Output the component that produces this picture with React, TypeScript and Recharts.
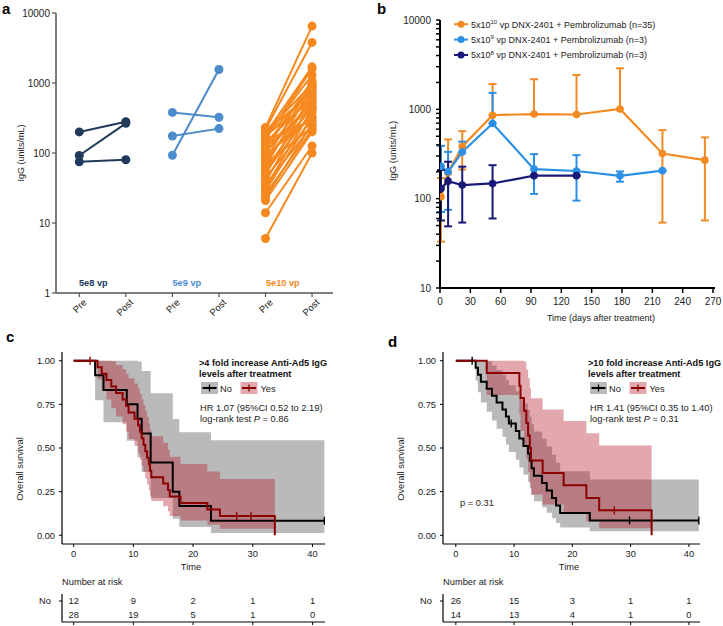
import React from 'react';
import {
  LineChart,
  Line,
  XAxis,
  YAxis,
  ComposedChart,
  Area,
  Scatter,
  ErrorBar,
} from 'recharts';

const FONT = '"Liberation Sans", Arial, Helvetica, sans-serif';

// ---------- panel a: pre / post IgG per patient, by dose
const dose5e8: [number, number][] = [[200, 280], [92, 265], [75, 80]];
const dose5e9: [number, number][] = [[380, 324], [175, 223], [93, 1560]];
const dose5e10: [number, number][] = [
  [6, 100], [14, 126], [21, 200], [23, 260], [26, 215], [29, 330], [32, 420], [35, 245],
  [39, 540], [44, 300], [49, 690], [54, 380], [59, 470], [64, 860], [70, 235], [75, 610],
  [80, 990], [86, 420], [92, 330], [98, 760], [105, 520], [112, 1080], [120, 450], [130, 900],
  [140, 640], [150, 290], [160, 1600], [168, 820], [178, 560], [188, 1700], [198, 960],
  [208, 700], [218, 3800], [232, 6500], [175, 1300],
];
const prePostLabels = ['Pre', 'Post', 'Pre', 'Post', 'Pre', 'Post'];
const groupLabels = ['5e8 vp', '5e9 vp', '5e10 vp'];
const ticksA = [1, 10, 100, 1000, 10000];

// ---------- panel b: IgG over time (mean, lower, upper)
const days5e10 = [1, 8, 22, 52, 93, 135, 178, 220, 262];
const mean5e10 = [105, 195, 385, 860, 885, 875, 1010, 320, 270];
const low5e10 = [33, null, 212, null, null, null, null, 54, 57];
const high5e10 = [170, 460, 570, 1920, 2170, 2420, 2880, 585, 485];

const days5e9 = [1, 8, 22, 52, 93, 135, 178, 220];
const mean5e9 = [230, 200, 333, 695, 214, 204, 180, 206];
const low5e9 = [71, 75, null, null, 113, 95, 155, null];
const high5e9 = [390, 334, 435, 1530, 315, 307, 202, null];

const days5e8 = [1, 8, 22, 52, 93, 135];
const mean5e8 = [130, 157, 142, 148, 181, 181];
const low5e8 = [57, 49, 54, 60, null, null];
const high5e8 = [209, 259, 228, 237, null, null];

const majorTicksB = [10, 100, 1000, 10000];
const allTicksB = [
  10, 20, 30, 40, 50, 60, 70, 80, 90,
  100, 200, 300, 400, 500, 600, 700, 800, 900,
  1000, 2000, 3000, 4000, 5000, 6000, 7000, 8000, 9000, 10000,
];
const dayTicks = [0, 30, 60, 90, 120, 150, 180, 210, 240, 270];

// ---------- panel c: >4 fold increase
const cNoT = [0, 3.6, 5.0, 8.9, 10.7, 11.4, 12.9, 16.6, 17.7, 23.0, 42];
const cNoS = [1, 0.917, 0.833, 0.75, 0.667, 0.583, 0.417, 0.25, 0.167, 0.083, 0.083];
const cNoLo = [1, 0.773, 0.647, 0.541, 0.447, 0.362, 0.213, 0.094, 0.047, 0.013, 0.013];
const cNoHi = [1, 1, 1, 1, 0.995, 0.941, 0.814, 0.666, 0.59, 0.544, 0.544];
const cNoCens = [[42, 0.083]];

const cYesT = [0, 4.0, 4.7, 5.5, 6.3, 7.1, 8.2, 8.8, 9.2, 10.2, 10.8, 11.1, 11.4, 11.7, 12.0,
  12.3, 12.6, 12.8, 13.0, 15.0, 15.8, 16.1, 17.9, 22.4, 24.5, 33.7];
const cYesS = [1, 0.963, 0.926, 0.889, 0.852, 0.815, 0.778, 0.741, 0.704, 0.667, 0.63, 0.593,
  0.556, 0.519, 0.481, 0.444, 0.407, 0.37, 0.333, 0.296, 0.259, 0.222, 0.185, 0.148, 0.111, 0];
const cYesLo = [1, 0.894, 0.832, 0.778, 0.728, 0.681, 0.636, 0.593, 0.551, 0.511, 0.472, 0.433,
  0.397, 0.361, 0.325, 0.291, 0.258, 0.226, 0.196, 0.166, 0.137, 0.11, 0.084, 0.06, 0.038, 0.038];
const cYesHi = [1, 1, 1, 1, 0.997, 0.975, 0.951, 0.926, 0.899, 0.87, 0.841, 0.81, 0.779, 0.746,
  0.712, 0.677, 0.642, 0.605, 0.568, 0.53, 0.49, 0.45, 0.409, 0.366, 0.323, 0.323];
const cYesCens = [[2.75, 1], [27.3, 0.111], [29.7, 0.111]];

// ---------- panel d: >10 fold increase
const dNoT = [0, 3.4, 3.8, 4.3, 5.3, 6.2, 7.0, 8.0, 8.6, 9.1, 10.3, 10.9, 11.6, 12.4, 12.7,
  13.0, 13.4, 14.8, 15.6, 16.5, 17.2, 17.9, 23.0, 41.7];
const dNoS = [1, 0.96, 0.92, 0.88, 0.84, 0.8, 0.76, 0.72, 0.68, 0.64, 0.597, 0.555, 0.512,
  0.469, 0.427, 0.384, 0.341, 0.299, 0.256, 0.213, 0.171, 0.128, 0.085, 0.085];
const dNoLo = [1, 0.886, 0.82, 0.761, 0.708, 0.658, 0.61, 0.564, 0.52, 0.477, 0.432, 0.389,
  0.347, 0.307, 0.269, 0.231, 0.195, 0.161, 0.129, 0.098, 0.07, 0.045, 0.023, 0.023];
const dNoHi = [1, 1, 1, 1, 0.997, 0.973, 0.947, 0.919, 0.89, 0.859, 0.825, 0.791, 0.755,
  0.717, 0.678, 0.638, 0.595, 0.553, 0.508, 0.462, 0.416, 0.367, 0.32, 0.32];
const dNoCens = [[2.8, 1], [9.5, 0.64], [29.8, 0.085], [41.7, 0.085]];

const dYesT = [0, 5.3, 10.9, 11.1, 11.7, 12.1, 12.4, 12.7, 12.9, 14.9, 18.5, 22.4, 24.6, 33.6];
const dYesS = [1, 0.929, 0.857, 0.786, 0.714, 0.643, 0.571, 0.5, 0.429, 0.357, 0.286, 0.214, 0.143, 0];
const dYesLo = [1, 0.803, 0.692, 0.598, 0.513, 0.435, 0.363, 0.296, 0.234, 0.177, 0.125, 0.079, 0.04, 0.04];
const dYesHi = [1, 1, 1, 1, 0.995, 0.95, 0.899, 0.844, 0.785, 0.721, 0.654, 0.584, 0.515, 0.515];
const dYesCens = [[27.2, 0.143]];

const riskTimes = [0, 10, 20, 30, 40];
const cRiskNo = [12, 9, 2, 1, 1];
const cRiskYes = [28, 19, 5, 1, 0];
const dRiskNo = [26, 15, 3, 1, 1];
const dRiskYes = [14, 13, 4, 1, 0];
const survTicks = [0, 0.25, 0.5, 0.75, 1];
const timeTicks = [0, 10, 20, 30, 40];

const C8 = '#213a5c';
const C9 = '#4c8bcc';
const C10 = '#f5891f';
const B10 = '#f28b24';
const B9 = '#2b8fe6';
const B8 = '#19197a';
const KM_RED = '#8b0000';
const BAND_RED = '#b5192b';

const KM_FS = 9.3;
const tickText = { fontSize: 10, fill: '#222', fontFamily: FONT };
const kmTickText = { fontSize: KM_FS, fill: '#222', fontFamily: FONT };

const PrePostTick = (props: any) => {
  const { x, y, payload } = props;
  return (
    <text
      transform={`translate(${x + 8},${y + 4}) rotate(-45)`}
      textAnchor="end"
      fontSize={9.5}
      fill="#222"
      fontFamily={FONT}
    >
      {prePostLabels[payload.value - 1]}
    </text>
  );
};

function PanelA() {
  const groups: [[number, number][], string, number][] = [
    [dose5e8, C8, 1],
    [dose5e9, C9, 3],
    [dose5e10, C10, 5],
  ];
  return (
    <LineChart width={360} height={320} margin={{ top: 13, right: 27, bottom: 0, left: 6 }}>
      <XAxis
        type="number"
        dataKey="x"
        domain={[0.5, 6.45]}
        ticks={[1, 2, 3, 4, 5, 6]}
        allowDataOverflow
        height={27}
        tickSize={4}
        tick={<PrePostTick />}
        axisLine={{ stroke: '#555', strokeWidth: 1.5 }}
        tickLine={{ stroke: '#555', strokeWidth: 1.2 }}
      />
      <YAxis
        type="number"
        dataKey="y"
        scale="log"
        domain={[1, 10000]}
        ticks={ticksA}
        allowDataOverflow
        width={50}
        tickSize={4}
        tick={tickText}
        axisLine={{ stroke: '#555', strokeWidth: 1.5 }}
        tickLine={{ stroke: '#555', strokeWidth: 1.2 }}
      />
      {groups.map(([pairs, color, x0], g) =>
        pairs.map((p, i) => (
          <Line
            key={`${g}-${i}`}
            data={[{ x: x0, y: p[0] }, { x: x0 + 1, y: p[1] }]}
            dataKey="y"
            stroke={color}
            strokeWidth={2}
            dot={{ r: 4.5, fill: color, stroke: color, strokeWidth: 0 }}
            activeDot={false}
            isAnimationActive={false}
          />
        )),
      )}
    </LineChart>
  );
}

const toSeries = (days: number[], mean: number[], low: (number | null)[], high: (number | null)[]) =>
  days.map((d, i) => ({
    d,
    v: mean[i],
    e: [low[i] == null ? 0 : mean[i] - (low[i] as number), high[i] == null ? 0 : (high[i] as number) - mean[i]],
  }));

function PanelB() {
  const series: [any[], string][] = [
    [toSeries(days5e10, mean5e10, low5e10, high5e10), B10],
    [toSeries(days5e9, mean5e9, low5e9, high5e9), B9],
    [toSeries(days5e8, mean5e8, low5e8, high5e8), B8],
  ];
  return (
    <ComposedChart width={363} height={330} margin={{ top: 20, right: 8, bottom: 12, left: 30 }}>
      <XAxis
        type="number"
        dataKey="d"
        domain={[0, 272]}
        ticks={dayTicks}
        allowDataOverflow
        height={30}
        tickSize={5}
        tickMargin={5}
        tick={tickText}
        axisLine={{ stroke: '#000', strokeWidth: 2 }}
        tickLine={{ stroke: '#000', strokeWidth: 1.5 }}
      />
      <YAxis
        type="number"
        scale="log"
        domain={[10, 10000]}
        ticks={allTicksB}
        allowDataOverflow
        interval={0}
        width={50}
        tickSize={4}
        tickMargin={5}
        tickFormatter={(v: number) => (majorTicksB.includes(v) ? String(v) : '')}
        tick={tickText}
        axisLine={{ stroke: '#000', strokeWidth: 2 }}
        tickLine={{ stroke: '#000', strokeWidth: 1.5 }}
      />
      {series.map(([data, color], i) => (
        <Line
          key={i}
          data={data}
          dataKey="v"
          stroke={color}
          strokeWidth={2.2}
          dot={{ r: 3.8, fill: color, stroke: color, strokeWidth: 0 }}
          activeDot={false}
          isAnimationActive={false}
        >
          <ErrorBar dataKey="e" width={4} stroke={color} strokeWidth={2} direction="y" />
        </Line>
      ))}
    </ComposedChart>
  );
}

const CensorMark = (color: string) => (props: any) => (
  <line x1={props.cx} x2={props.cx} y1={props.cy - 4} y2={props.cy + 4} stroke={color} strokeWidth={1.4} />
);

type KmProps = {
  width: number;
  marginLeft: number;
  marginRight: number;
  domain: [number, number];
  noT: number[];
  noS: number[];
  noLo: number[];
  noHi: number[];
  noCens: number[][];
  yesT: number[];
  yesS: number[];
  yesLo: number[];
  yesHi: number[];
  yesCens: number[][];
};

function KmChart(p: KmProps) {
  const noLine = p.noT.map((t, i) => ({ t, s: p.noS[i] }));
  const yesLine = p.yesT.map((t, i) => ({ t, s: p.yesS[i] }));
  const noBand = p.noT.map((t, i) => ({ t, band: [p.noLo[i], p.noHi[i]] }));
  const yesBand = p.yesT.map((t, i) => ({ t, band: [p.yesLo[i], p.yesHi[i]] }));
  const noCens = p.noCens.map(([t, s]) => ({ t, s }));
  const yesCens = p.yesCens.map(([t, s]) => ({ t, s }));
  return (
    <ComposedChart
      width={p.width}
      height={240}
      margin={{ top: 22, right: p.marginRight, bottom: 1, left: p.marginLeft }}
    >
      <XAxis
        type="number"
        dataKey="t"
        domain={p.domain}
        ticks={timeTicks}
        allowDataOverflow
        height={25}
        tickSize={3}
        tickMargin={3}
        tick={kmTickText}
        axisLine={{ stroke: '#000', strokeWidth: 1.2 }}
        tickLine={{ stroke: '#000', strokeWidth: 1 }}
      />
      <YAxis
        type="number"
        domain={[-0.05, 1.05]}
        ticks={survTicks}
        allowDataOverflow
        width={40}
        tickSize={3}
        tickMargin={4}
        tickFormatter={(v: number) => v.toFixed(2)}
        tick={kmTickText}
        axisLine={{ stroke: '#000', strokeWidth: 1.2 }}
        tickLine={{ stroke: '#000', strokeWidth: 1 }}
      />
      <Area
        data={noBand}
        dataKey="band"
        type="stepAfter"
        stroke="none"
        fill="#000"
        fillOpacity={0.27}
        activeDot={false}
        isAnimationActive={false}
      />
      <Area
        data={yesBand}
        dataKey="band"
        type="stepAfter"
        stroke="none"
        fill={BAND_RED}
        fillOpacity={0.38}
        activeDot={false}
        isAnimationActive={false}
      />
      <Line data={noLine} dataKey="s" type="stepAfter" stroke="#000" strokeWidth={2} dot={false} activeDot={false} isAnimationActive={false} />
      <Line data={yesLine} dataKey="s" type="stepAfter" stroke={KM_RED} strokeWidth={2} dot={false} activeDot={false} isAnimationActive={false} />
      <Scatter data={noCens} dataKey="s" shape={CensorMark('#000')} isAnimationActive={false} />
      <Scatter data={yesCens} dataKey="s" shape={CensorMark(KM_RED)} isAnimationActive={false} />
    </ComposedChart>
  );
}

const RowTick = (props: any) => {
  const { x, y, payload } = props;
  const yes = payload.value === 1;
  return (
    <text x={x} y={y} dy="0.35em" textAnchor="end" fontSize={KM_FS} fontFamily={FONT} fill={yes ? KM_RED : '#222'}>
      {yes ? 'Yes' : 'No'}
    </text>
  );
};

const RiskNumber = (props: any) => (
  <text x={props.cx} y={props.cy} dy="0.35em" textAnchor="middle" fontSize={KM_FS} fontFamily={FONT} fill="#222">
    {props.payload.n}
  </text>
);

function RiskTable(p: { width: number; marginLeft: number; marginRight: number; domain: [number, number]; no: number[]; yes: number[] }) {
  const rows = [
    ...riskTimes.map((t, i) => ({ t, r: 3, n: p.no[i] })),
    ...riskTimes.map((t, i) => ({ t, r: 1, n: p.yes[i] })),
  ];
  return (
    <ComposedChart width={p.width} height={42} margin={{ top: 10, right: p.marginRight, bottom: 0, left: p.marginLeft }}>
      <XAxis
        type="number"
        dataKey="t"
        domain={p.domain}
        ticks={timeTicks}
        allowDataOverflow
        height={4}
        tickSize={3}
        tickFormatter={() => ''}
        axisLine={{ stroke: '#000', strokeWidth: 1.2 }}
        tickLine={{ stroke: '#000', strokeWidth: 1 }}
      />
      <YAxis
        type="number"
        domain={[0, 4]}
        ticks={[1, 3]}
        width={40}
        tickSize={3}
        tickMargin={8}
        tick={<RowTick />}
        axisLine={{ stroke: '#000', strokeWidth: 1.2 }}
        tickLine={{ stroke: '#000', strokeWidth: 1 }}
      />
      <Scatter data={rows} dataKey="r" shape={RiskNumber} isAnimationActive={false} />
    </ComposedChart>
  );
}

const abs = (left: number, top: number): React.CSSProperties => ({ position: 'absolute', left, top });

function KmLegend({ x, title }: { x: number; title: string }) {
  return (
    <g>
      <text x={x} y={365.5} fontSize={9.2} fontWeight="bold" fill="#111">{title}</text>
      <text x={x} y={376.5} fontSize={9.2} fontWeight="bold" fill="#111">levels after treatment</text>
      <rect x={x + 2} y={382} width={17} height={12} fill="#000" fillOpacity={0.27} />
      <line x1={x + 3.5} x2={x + 17.5} y1={388} y2={388} stroke="#000" strokeWidth={2} />
      <line x1={x + 10.5} x2={x + 10.5} y1={384.5} y2={391.5} stroke="#000" strokeWidth={1.3} />
      <text x={x + 21} y={391.5} fontSize={KM_FS} fill="#222">No</text>
      <rect x={x + 41.5} y={382} width={17} height={12} fill={BAND_RED} fillOpacity={0.38} />
      <line x1={x + 43} x2={x + 57} y1={388} y2={388} stroke={KM_RED} strokeWidth={2} />
      <line x1={x + 50} x2={x + 50} y1={384.5} y2={391.5} stroke={KM_RED} strokeWidth={1.3} />
      <text x={x + 61.5} y={391.5} fontSize={KM_FS} fill="#222">Yes</text>
    </g>
  );
}

function Overlay() {
  const legendB: [string, string, string][] = [
    ['10', B10, ' vp DNX-2401 + Pembrolizumab (n=35)'],
    ['9', B9, ' vp DNX-2401 + Pembrolizumab (n=3)'],
    ['8', B8, ' vp DNX-2401 + Pembrolizumab (n=3)'],
  ];
  const legendRowY = [24.2, 39.6, 55];
  return (
    <svg width={723} height={626} style={{ position: 'absolute', left: 0, top: 0, pointerEvents: 'none' }} fontFamily={FONT}>
      {/* panel letters */}
      <text x={2} y={14} fontSize={15} fontWeight="bold" fill="#000">a</text>
      <text x={377} y={14} fontSize={15} fontWeight="bold" fill="#000">b</text>
      <text x={6} y={342} fontSize={15} fontWeight="bold" fill="#000">c</text>
      <text x={388} y={347} fontSize={15} fontWeight="bold" fill="#000">d</text>

      {/* panel a */}
      <text transform="translate(24,153) rotate(-90)" textAnchor="middle" fontSize={9} fill="#222">IgG (units/mL)</text>
      {groupLabels.map((g, i) => (
        <text key={g} x={79 + i * 93.5} y={286} fontSize={9.2} fontWeight="bold" fill={[C8, C9, C10][i]}>{g}</text>
      ))}

      {/* panel b */}
      <text transform="translate(396,151) rotate(-90)" textAnchor="middle" fontSize={9.5} fill="#222">IgG (units/mL)</text>
      <text x={601} y={321} textAnchor="middle" fontSize={9} fill="#222">Time (days after treatment)</text>
      {legendB.map(([exp, color, rest], i) => (
        <g key={exp}>
          <line x1={454} x2={468} y1={legendRowY[i]} y2={legendRowY[i]} stroke={color} strokeWidth={2} />
          <circle cx={461} cy={legendRowY[i]} r={3.5} fill={color} />
          <text x={471} y={legendRowY[i] + 3.3} fontSize={9} fill="#222">
            5x10<tspan dy={-3.5} fontSize={6}>{exp}</tspan>
            <tspan dy={3.5}>{rest}</tspan>
          </text>
        </g>
      ))}

      {/* panel c */}
      <text transform="translate(23,469) rotate(-90)" textAnchor="middle" fontSize={KM_FS} fill="#222">Overall survival</text>
      <KmLegend x={199} title=">4 fold increase Anti-Ad5 IgG" />
      <text x={200} y={410.7} fontSize={KM_FS} fill="#222">HR 1.07 (95%CI 0.52 to 2.19)</text>
      <text x={200} y={421.7} fontSize={KM_FS} fill="#222">log-rank test <tspan fontStyle="italic">P</tspan> = 0.86</text>
      <text x={191} y={570} textAnchor="middle" fontSize={KM_FS} fill="#222">Time</text>
      <text x={62} y={585} fontSize={KM_FS} fill="#222">Number at risk</text>

      {/* panel d */}
      <text transform="translate(404,469) rotate(-90)" textAnchor="middle" fontSize={KM_FS} fill="#222">Overall survival</text>
      <KmLegend x={588} title=">10 fold increase Anti-Ad5 IgG" />
      <text x={590} y={410.7} fontSize={KM_FS} fill="#222">HR 1.41 (95%CI 0.35 to 1.40)</text>
      <text x={590} y={421.7} fontSize={KM_FS} fill="#222">log-rank test <tspan fontStyle="italic">P</tspan> = 0.31</text>
      <text x={460} y={506} fontSize={KM_FS} fill="#222">p = 0.31</text>
      <text x={569} y={570} textAnchor="middle" fontSize={KM_FS} fill="#222">Time</text>
      <text x={443} y={585} fontSize={KM_FS} fill="#222">Number at risk</text>
    </svg>
  );
}

export default function App() {
  return (
    <div style={{ position: 'absolute', left: 0, top: 0, width: 723, height: 626, background: '#fff', overflow: 'hidden', fontFamily: FONT }}>
      <div style={abs(0, 0)}>
        <PanelA />
      </div>
      <div style={abs(360, 0)}>
        <PanelB />
      </div>
      <div style={abs(0, 330)}>
        <KmChart
          width={360}
          marginLeft={22}
          marginRight={35}
          domain={[-1.95, 42.1]}
          noT={cNoT} noS={cNoS} noLo={cNoLo} noHi={cNoHi} noCens={cNoCens}
          yesT={cYesT} yesS={cYesS} yesLo={cYesLo} yesHi={cYesHi} yesCens={cYesCens}
        />
      </div>
      <div style={abs(360, 330)}>
        <KmChart
          width={363}
          marginLeft={43}
          marginRight={23}
          domain={[-2.2, 41.9]}
          noT={dNoT} noS={dNoS} noLo={dNoLo} noHi={dNoHi} noCens={dNoCens}
          yesT={dYesT} yesS={dYesS} yesLo={dYesLo} yesHi={dYesHi} yesCens={dYesCens}
        />
      </div>
      <div style={abs(0, 584)}>
        <RiskTable width={360} marginLeft={22} marginRight={35} domain={[-1.95, 42.1]} no={cRiskNo} yes={cRiskYes} />
      </div>
      <div style={abs(360, 584)}>
        <RiskTable width={363} marginLeft={43} marginRight={23} domain={[-2.2, 41.9]} no={dRiskNo} yes={dRiskYes} />
      </div>
      <Overlay />
    </div>
  );
}
